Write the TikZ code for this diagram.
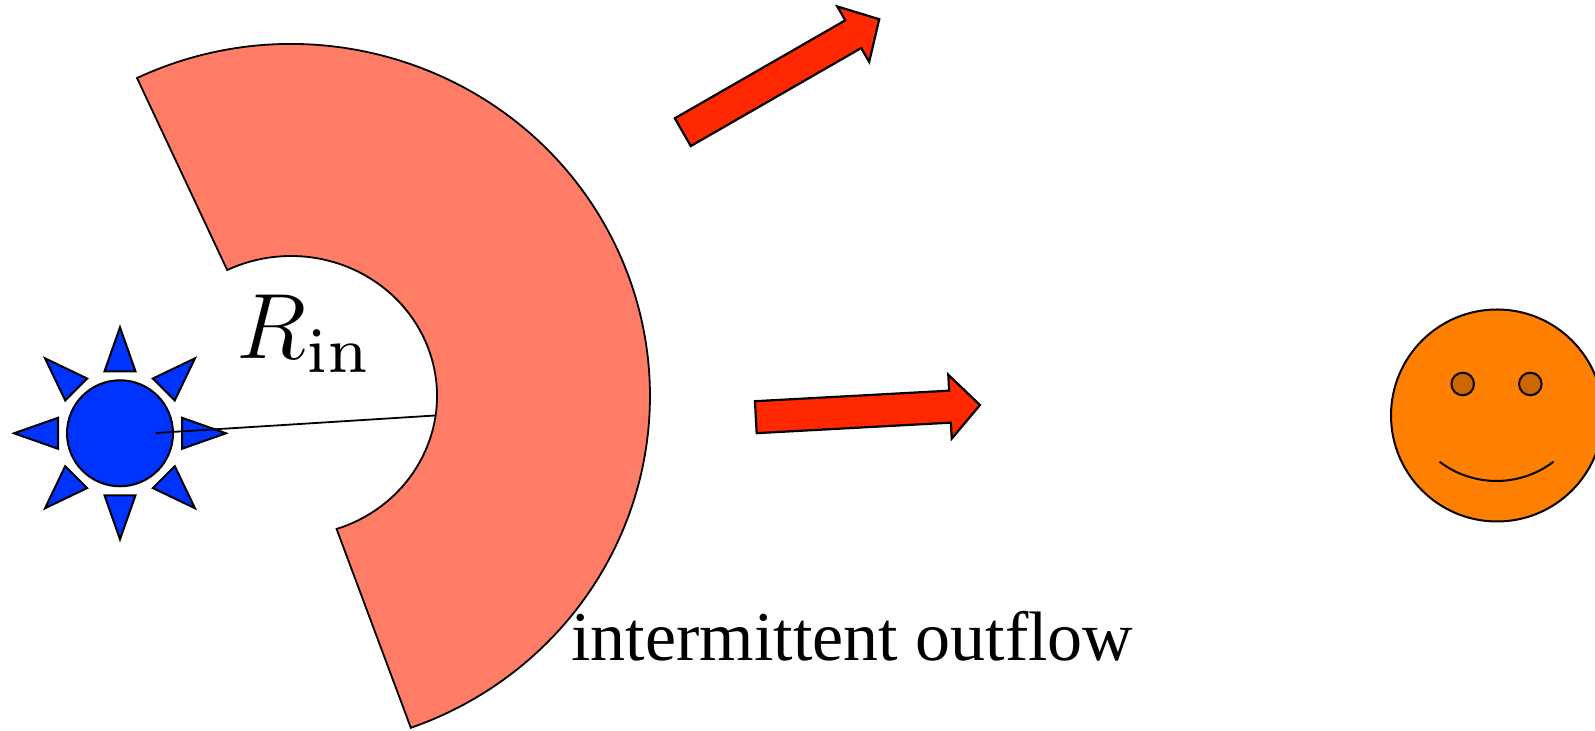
\RequirePackage{fix-cm}
\documentclass[tikz,border=0pt]{standalone}
\usepackage{fontspec}
\usetikzlibrary{calc}
\newfontfamily\timesfont{Liberation Serif}
\newfontfamily\subfont{lmroman7-regular.otf}

\definecolor{ringcol}{RGB}{255,124,102}
\definecolor{suncol}{RGB}{0,51,255}
\definecolor{flowcol}{RGB}{255,40,0}
\definecolor{facecol}{RGB}{255,127,0}
\definecolor{eyecol}{RGB}{204,102,0}

\tikzset{
  outline/.style={draw=black, line width=1pt, line join=miter},
  ring/.style={outline, fill=ringcol, line width=0.9pt},
  sunbody/.style={outline, fill=suncol},
  sunray/.style={outline, fill=suncol},
  flowarrow/.style={outline, fill=flowcol, line width=1.1pt},
  face/.style={outline, fill=facecol},
  eye/.style={outline, fill=eyecol},
  radiusline/.style={draw=black, line width=0.9pt},
}

\begin{document}
\begin{tikzpicture}[x=0.5pt, y=0.5pt]
  \useasboundingbox (0,0) rectangle (1595,731);

  % key points
  \coordinate (ringc) at (291,335);
  \coordinate (sun) at (120,297.7);
  \coordinate (facec) at (1497,315.5);

  % partial shell around the star
  \draw[ring] ($(ringc)+(115.4:359 and 352)$)
      arc[start angle=115.4, end angle=-70.5, x radius=359, y radius=352]
      -- ($(ringc)+(-71.8:146 and 140)$)
      arc[start angle=-71.8, end angle=115.9, x radius=146, y radius=140]
      -- cycle;

  % star: body and eight rays
  \foreach \a in {0,45,...,315} {
    \begin{scope}[shift={(sun)}, rotate=\a]
      \draw[sunray] (62,-15.5) -- (106,0) -- (62,15.5) -- cycle;
    \end{scope}
  }
  \draw[sunbody] (sun) circle[radius=53];

  % inner radius marker
  \coordinate (rin0) at (156,298);
  \coordinate (rin1) at ($(ringc)+(-8:146 and 140)$);
  \draw[radiusline] (rin0) -- (rin1);
  \node[anchor=base west, inner sep=0pt, font=\fontsize{46.4}{50}\selectfont]
    (rinlabel) at (236,372.7)
    {$R$\raisebox{-7.2pt}{\subfont\fontsize{32.5}{36}\selectfont in}};

  % outflow arrows
  \foreach \tx/\ty/\ang/\len in {682.8/598.8/29.9/226.6, 755.8/313.8/3.1/224.5} {
    \begin{scope}[shift={(\tx,\ty)}, rotate=\ang]
      \draw[flowarrow] (0,-16) -- (\len-30,-16) -- (\len-30,-32) -- (\len,0)
        -- (\len-30,32) -- (\len-30,16) -- (0,16) -- cycle;
    \end{scope}
  }

  % observer
  \draw[face] (facec) circle[radius=106];
  \draw[eye] ($(facec)+(-34.3,31.5)$) circle[radius=11.3];
  \draw[eye] ($(facec)+(33.3,31.5)$) circle[radius=11.3];
  \coordinate (smilec) at (1496.5,343.8);
  \draw[outline] ($(smilec)+(232.6:93.8)$) arc[start angle=232.6, end angle=307.4, radius=93.8];

  % caption
  \node[anchor=base west, inner sep=0pt, font=\timesfont\fontsize{35}{40}\selectfont]
    (caption) at (571,70) {intermittent outflow};
\end{tikzpicture}
\end{document}
